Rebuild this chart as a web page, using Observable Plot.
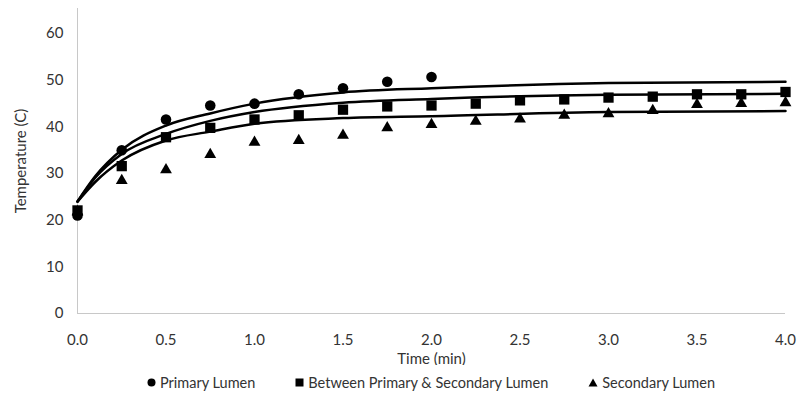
<!DOCTYPE html>
<html>
<head>
<meta charset="utf-8">
<script src="https://cdn.jsdelivr.net/npm/d3@7"></script>
<script src="https://cdn.jsdelivr.net/npm/@observablehq/plot@0.6"></script>
<style>
  html, body { margin: 0; padding: 0; background: #fff; }
  #chart { width: 800px; font-family: Lato, "Open Sans", sans-serif; color: #333; }
  .legend { display: flex; justify-content: center; gap: 40px; padding-left: 62px; font-size: 14.5px; margin-top: 9px; }
  .legend span { display: inline-flex; align-items: center; gap: 4px; }
</style>
</head>
<body>
<div id="chart"></div>
<script>
// Measured data
const times = [0, 0.25, 0.5, 0.75, 1.0, 1.25, 1.5, 1.75, 2.0, 2.25, 2.5, 2.75, 3.0, 3.25, 3.5, 3.75, 4.0];
const primary = [21.0, 35.0, 41.6, 44.6, 45.0, 47.0, 48.3, 49.7, 50.7];
const between = [22.1, 31.6, 37.8, 39.8, 41.6, 42.5, 43.7, 44.4, 44.6, 45.0, 45.7, 45.9, 46.3, 46.5, 47.0, 47.0, 47.5];
const secondary = [21.8, 28.5, 30.8, 34.1, 36.7, 37.1, 38.2, 39.8, 40.5, 41.2, 41.7, 42.5, 42.8, 43.5, 44.8, 45.0, 45.2];

// Trend lines
const trendT = [0, 0.1, 0.25, 0.5, 0.75, 1, 1.5, 2, 3, 4];
const trendPrimary = [24, 29.4, 35.1, 40.3, 42.9, 45.0, 47.4, 48.3, 49.4, 49.7];
const trendBetween = [24, 29.1, 34.2, 38.5, 41.3, 43.2, 45.2, 46.0, 46.9, 47.1];
const trendSecondary = [24, 28.2, 32.8, 37.1, 39.0, 40.7, 41.9, 42.3, 43.2, 43.4];

const seriesNames = ["Primary Lumen", "Between Primary & Secondary Lumen", "Secondary Lumen"];
const xTicks = [0, 0.5, 1, 1.5, 2, 2.5, 3, 3.5, 4];
const yTicks = [0, 10, 20, 30, 40, 50, 60];

const pts = (vals, name) => vals.map((v, i) => ({t: times[i], v, s: name}));
const trend = (vals) => vals.map((v, i) => ({t: trendT[i], v}));

const symbols = ["circle", "square", "triangle"];
const sizes = [5.3, 5.8, 4.4];
const dataSets = [primary, between, secondary];

const marks = [
  Plot.ruleX([0], {stroke: "#c8c8c8", strokeWidth: 1}),
  Plot.ruleY([0], {stroke: "#c8c8c8", strokeWidth: 1}),
];
dataSets.forEach((vals, i) => {
  marks.push(Plot.dot(pts(vals, seriesNames[i]), {x: "t", y: "v", symbol: () => symbols[i], r: sizes[i], fill: "#000", stroke: "none"}));
});
[trendPrimary, trendBetween, trendSecondary].forEach(vals => {
  marks.push(Plot.line(trend(vals), {x: "t", y: "v", curve: "monotone-x", stroke: "#000", strokeWidth: 2.5}));
});

const plot = Plot.plot({
  width: 800,
  height: 365,
  marginLeft: 77,
  marginRight: 15,
  marginTop: 8,
  marginBottom: 52,
  style: {fontFamily: "Lato, 'Open Sans', sans-serif", fontSize: "15px", color: "#333", background: "#fff"},
  symbol: {domain: symbols, range: symbols},
  x: {domain: [0, 4], ticks: xTicks, tickFormat: d3.format(".1f"), tickSize: 0, tickPadding: 21,
      label: "Time (min)", labelAnchor: "center", labelArrow: "none", labelOffset: 50},
  y: {domain: [0, 65.4], ticks: yTicks, tickSize: 0, tickPadding: 14,
      label: "Temperature (C)", labelAnchor: "center", labelArrow: "none", labelOffset: 62},
  marks
});

const chart = document.getElementById("chart");
chart.appendChild(plot);

const legend = document.createElement("div");
legend.className = "legend";
const shapes = [
  '<svg width="9" height="9"><circle cx="4.5" cy="4.5" r="4" fill="#000"/></svg>',
  '<svg width="9" height="9"><rect x="0.5" y="0.5" width="8" height="8" fill="#000"/></svg>',
  '<svg width="10" height="9"><polygon points="5,0.5 9.5,8.5 0.5,8.5" fill="#000"/></svg>'
];
seriesNames.forEach((n, i) => {
  const s = document.createElement("span");
  s.innerHTML = shapes[i] + "<span></span>";
  s.lastChild.textContent = n;
  legend.appendChild(s);
});
chart.appendChild(legend);
</script>
</body>
</html>
